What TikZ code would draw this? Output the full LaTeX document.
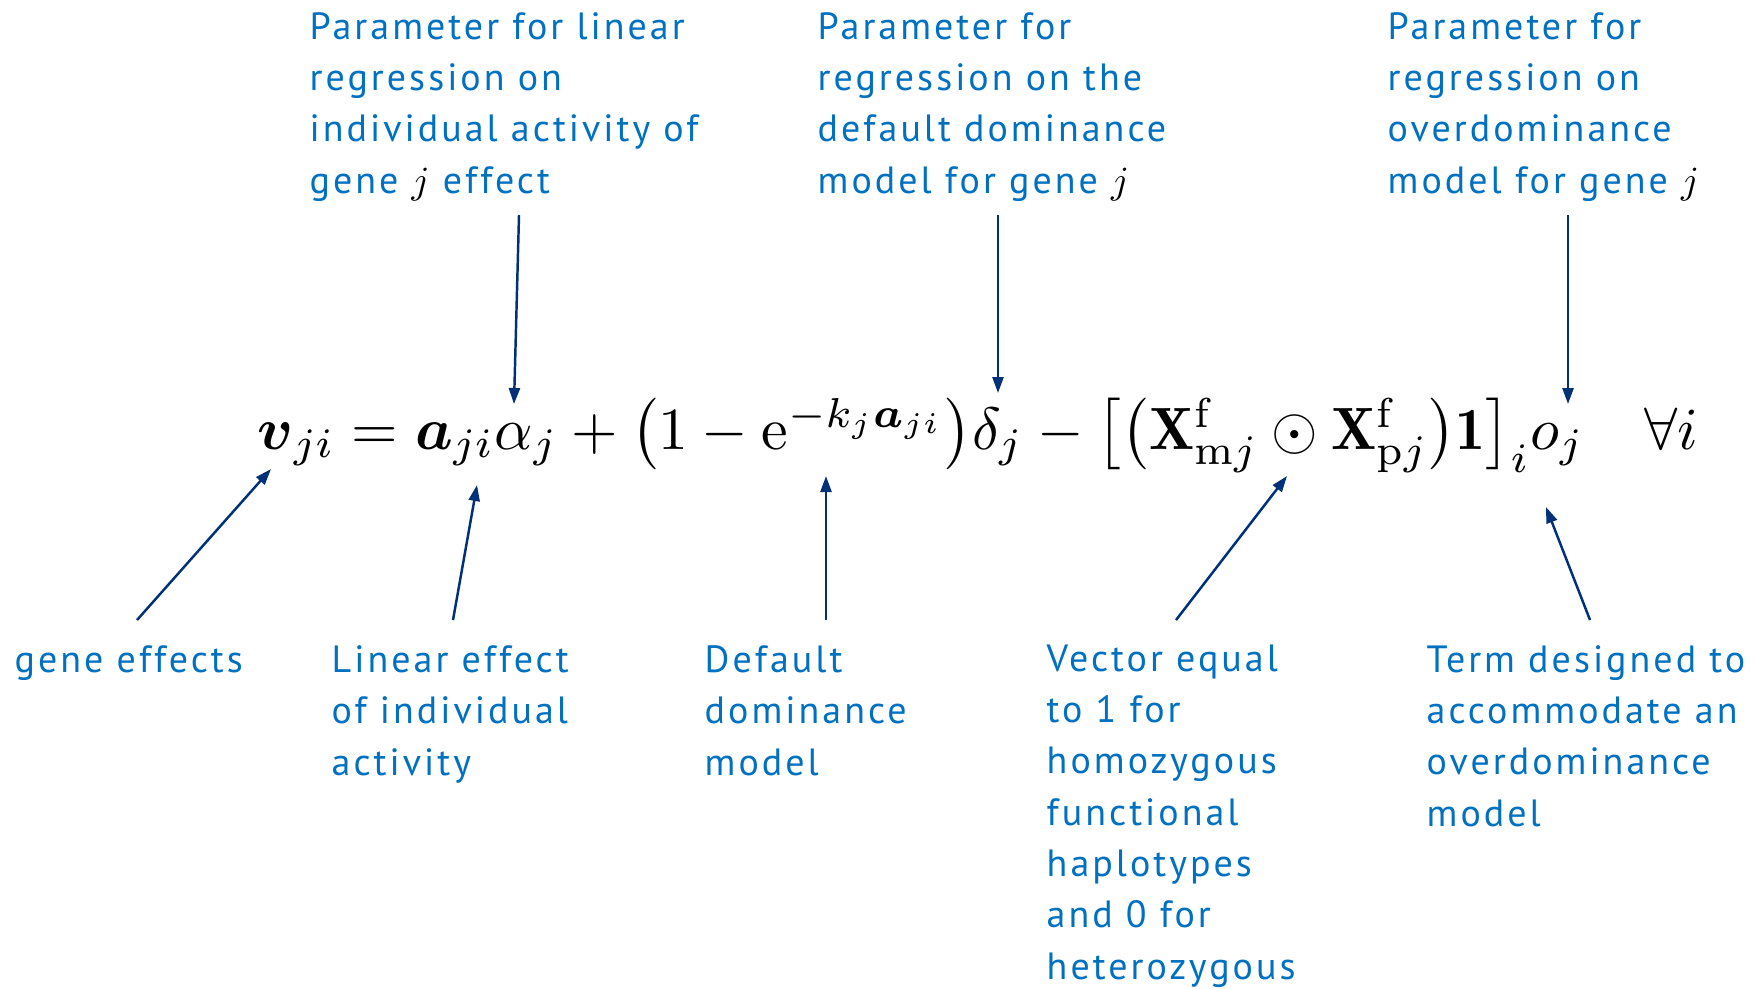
\documentclass[tikz,border=0pt]{standalone}
\usepackage{amsmath,amssymb}
\usepackage{fontspec}
\newfontfamily\labelfont[LetterSpace=8]{PT Sans}
\usepackage{tikz}
\usetikzlibrary{arrows.meta}
\usepackage{xcolor}
\definecolor{labelblue}{RGB}{0,112,192}
\definecolor{arrownavy}{RGB}{0,48,120}
\tikzset{
  lbl/.style={anchor=base west,align=left,inner sep=0pt,text=labelblue,
    font=\labelfont\fontsize{10.8}{14.6}\selectfont},
  eqn/.style={anchor=base west,inner sep=0pt,font=\fontsize{10}{12}\selectfont,scale=1.7},
  arr/.style={arrownavy,line width=0.7pt,-{Triangle[length=1.6mm,width=1.1mm]}},
}
\newcommand{\gj}{{\color{black}$j$}}

\begin{document}
\begin{tikzpicture}[x=0.1mm,y=-0.1mm]
\useasboundingbox (0,0) rectangle (1760,988);
% the equation
\node[eqn] (eq) at (256,449) {$\boldsymbol{v}_{ji} = \boldsymbol{a}_{ji}\alpha_j
  + \bigl(1 - \mathrm{e}^{-k_j\boldsymbol{a}_{ji}}\bigr)\delta_j
  - \bigl[\bigl(\mathbf{X}^{\mathrm{f}}_{\mathrm{m}j}\odot\mathbf{X}^{\mathrm{f}}_{\mathrm{p}j}\bigr)\mathbf{1}\bigr]_i o_j
  \quad \forall i$};
% labels above (base = last line)
\node[lbl] (parA) at (309,193) {Parameter for linear\\regression on\\individual activity of\\gene \gj{} effect};
\node[lbl] (parB) at (817,193) {Parameter for\\regression on the\\default dominance\\model for gene \gj};
\node[lbl] (parC) at (1387,193) {Parameter for\\regression on\\overdominance\\model for gene \gj};
% labels below
\node[lbl] (gene) at (14,672) {gene effects};
\node[lbl] (lin) at (331,775) {Linear effect\\of individual\\activity};
\node[lbl] (dflt) at (704,775) {Default\\dominance\\model};
\node[lbl] (vec) at (1046,979) {Vector equal\\to 1 for\\homozygous\\functional\\haplotypes\\and 0 for\\heterozygous};
\node[lbl] (term) at (1426,826) {Term designed to\\accommodate an\\overdominance\\model};
% arrow ends
\coordinate (sA) at (519,215);   \coordinate (tA) at (514,404);
\coordinate (sB) at (998,215);   \coordinate (tB) at (998,393);
\coordinate (sC) at (1568,215);  \coordinate (tC) at (1568,404);
\coordinate (sGene) at (137,620); \coordinate (tGene) at (271,469);
\coordinate (sLin) at (453,620);  \coordinate (tLin) at (477,485);
\coordinate (sDflt) at (826,620); \coordinate (tDflt) at (826,476);
\coordinate (sVec) at (1176,620); \coordinate (tVec) at (1287,476);
\coordinate (sTerm) at (1590,620); \coordinate (tTerm) at (1546,507);
\foreach \s/\t in {sA/tA,sB/tB,sC/tC,sGene/tGene,sLin/tLin,sDflt/tDflt,sVec/tVec,sTerm/tTerm}
  \draw[arr] (\s) -- (\t);
\end{tikzpicture}
\end{document}
